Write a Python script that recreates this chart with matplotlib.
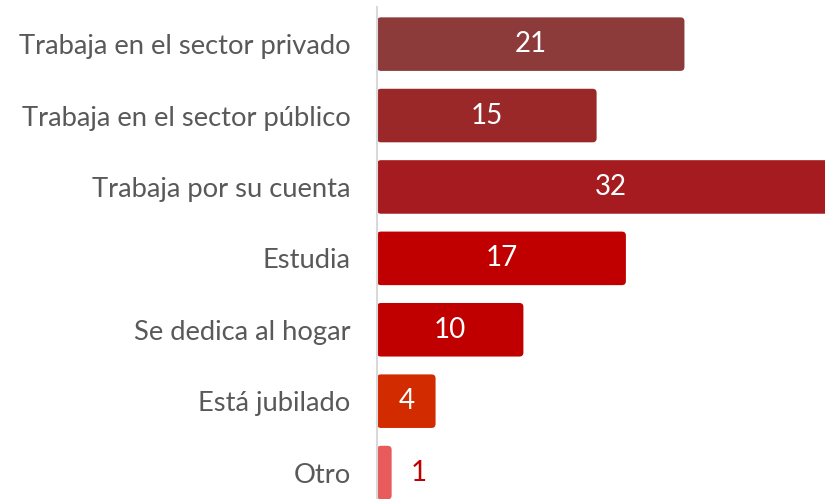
import numpy as np
import matplotlib.pyplot as plt
from matplotlib.patches import FancyBboxPatch

# data
categorias = ["Trabaja en el sector privado", "Trabaja en el sector público",
              "Trabaja por su cuenta", "Estudia", "Se dedica al hogar",
              "Está jubilado", "Otro"]
valores = [21, 15, 32, 17, 10, 4, 1]
colores = ["#8C3A3A", "#9A2829", "#A51B1F", "#C00000", "#C00000", "#D22B00", "#E85B5C"]

plt.rcParams['font.family'] = ['Lato', 'DejaVu Sans']

fig = plt.figure(figsize=(8.25, 4.99), dpi=100)
ax = fig.add_axes([377 / 825, 0, 1 - 377 / 825, 492 / 499])

y = np.arange(len(categorias))
bars = ax.barh(y, valores, height=0.75, color=colores)

ax.set_xlim(0, 30.6)
ax.set_ylim(6.37, -0.52)

# swap the plain rectangles for slightly rounded ones
px_x = ax.bbox.width / 30.6
px_y = ax.bbox.height / (6.37 + 0.52)
for b, c in zip(bars, colores):
    b.set_visible(False)
    ax.add_patch(FancyBboxPatch((b.get_x(), b.get_y()), b.get_width(), b.get_height(),
                                boxstyle="round,pad=0,rounding_size=%f" % (4 / px_x),
                                mutation_aspect=px_x / px_y, facecolor=c, edgecolor="none"))

ax.set_yticks(y)
ax.set_yticklabels(categorias, fontsize=19.7, color="#595959")
ax.tick_params(axis="y", length=0, pad=19)
ax.set_xticks([])

for s in ["top", "right", "bottom"]:
    ax.spines[s].set_visible(False)
ax.spines["left"].set_color("#D9D9D9")
ax.spines["left"].set_linewidth(1.5)
ax.spines["left"].set_zorder(5)

# labels: inside in white, small ones outside in red
for b, v in zip(bars, valores):
    cy = b.get_y() + b.get_height() / 2
    if v >= 3:
        ax.text(v / 2, cy, str(v), ha="center", va="center", color="white", fontsize=20)
    else:
        ax.annotate(str(v), (v, cy), xytext=(14, 0), textcoords="offset points",
                    ha="left", va="center", color="#C00000", fontsize=20)

fig.savefig("out.png", dpi=100)
